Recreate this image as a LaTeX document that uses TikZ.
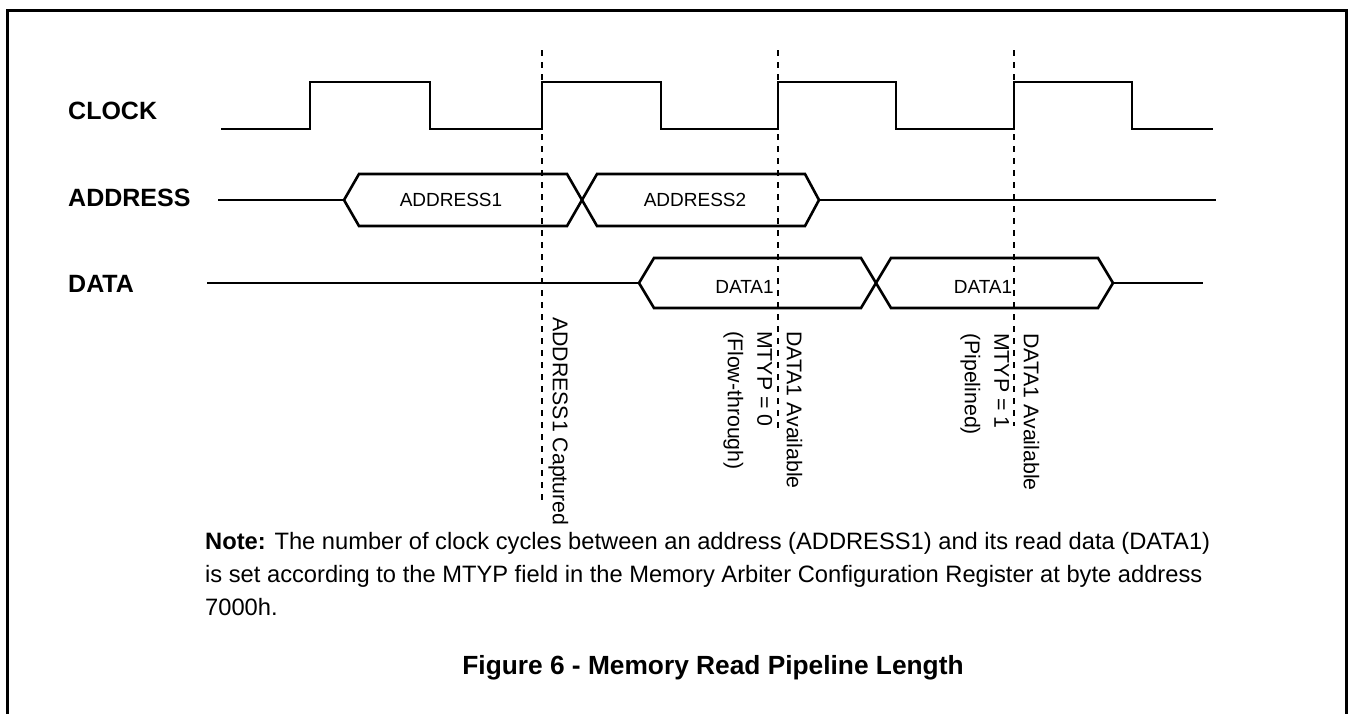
\documentclass[tikz,border=0pt]{standalone}
\usepackage{fontspec}
\setmainfont{Liberation Sans}
\begin{document}
\begin{tikzpicture}[x=1pt,y=-1pt,
  sig/.style={line width=2.6pt, line join=miter},
  guide/.style={line width=2pt, dash pattern=on 6pt off 6pt},
  lbl/.style={font=\fontsize{25}{30}\selectfont\bfseries, anchor=base west, inner sep=0},
  bus/.style={font=\fontsize{19}{23}\selectfont, anchor=base, inner sep=0},
  vnote/.style={font=\fontsize{21.3}{29.5}\selectfont, rotate=-90, anchor=north west, align=left, inner sep=0},
  notetxt/.style={font=\fontsize{23.7}{31}\selectfont, anchor=base west, inner sep=0},
]
\useasboundingbox (0,0) rectangle (1353,713);
% frame
\draw[line width=3pt] (7,725) -- (7,10.5) -- (1346,10.5) -- (1346,725);

% signal names
\node[lbl] (lclock) at (68,119) {CLOCK};
\node[lbl] (laddr) at (68,206.5) {ADDRESS};
\node[lbl] (ldata) at (68,292) {DATA};

% guide lines
\coordinate (g1t) at (542,50);  \coordinate (g1b) at (542,503);
\coordinate (g2t) at (778,50);  \coordinate (g2b) at (778,432);
\coordinate (g3t) at (1014,50); \coordinate (g3b) at (1014,426);
\draw[guide] (g1t) -- (g1b);
\draw[guide] (g2t) -- (g2b);
\draw[guide] (g3t) -- (g3b);

% clock
\draw[sig] (221,129) -- (310,129) -- (310,82) -- (430,82) -- (430,129)
  -- (542,129) -- (542,82) -- (661,82) -- (661,129)
  -- (778,129) -- (778,82) -- (896,82) -- (896,129)
  -- (1014,129) -- (1014,82) -- (1132,82) -- (1132,129) -- (1213,129);

% address bus
\draw[sig] (218,200) -- (344,200);
\draw[sig] (344,200) -- (359,174) -- (567,174) -- (582,200) -- (567,226) -- (359,226) -- cycle;
\draw[sig] (582,200) -- (597,174) -- (805,174) -- (819,200) -- (805,226) -- (597,226) -- cycle;
\draw[sig] (819,200) -- (1216,200);
\node[bus] (a1) at (451,206) {ADDRESS1};
\node[bus] (a2) at (695,206) {ADDRESS2};

% data bus
\draw[sig] (207,283) -- (639,283);
\draw[sig] (639,283) -- (654,258) -- (861,258) -- (876,283) -- (861,308) -- (654,308) -- cycle;
\draw[sig] (876,283) -- (891,258) -- (1098,258) -- (1113,283) -- (1098,308) -- (891,308) -- cycle;
\draw[sig] (1113,283) -- (1203,283);
\node[bus] (d1) at (744.5,293) {DATA1};
\node[bus] (d2) at (983,293) {DATA1};

% vertical annotations
\node[vnote] (n1) at (568.5,317) {ADDRESS1 Captured};
\node[vnote] (n2) at (802.5,331) {DATA1 Available\\MTYP = 0\\(Flow-through)};
\node[vnote] (n3) at (1039.5,333) {DATA1 Available\\MTYP = 1\\(Pipelined)};

% note
\node[notetxt] (note1) at (205,549) {\textbf{Note:} The number of clock cycles between an address (ADDRESS1) and its read data (DATA1)};
\node[notetxt] (note2) at (205,582) {is set according to the MTYP field in the Memory Arbiter Configuration Register at byte address};
\node[notetxt] (note3) at (205,615) {7000h.};

% caption
\node[font=\fontsize{26.3}{30}\selectfont\bfseries, anchor=base, inner sep=0] (title) at (713,674) {Figure 6 - Memory Read Pipeline Length};
\end{tikzpicture}
\end{document}
